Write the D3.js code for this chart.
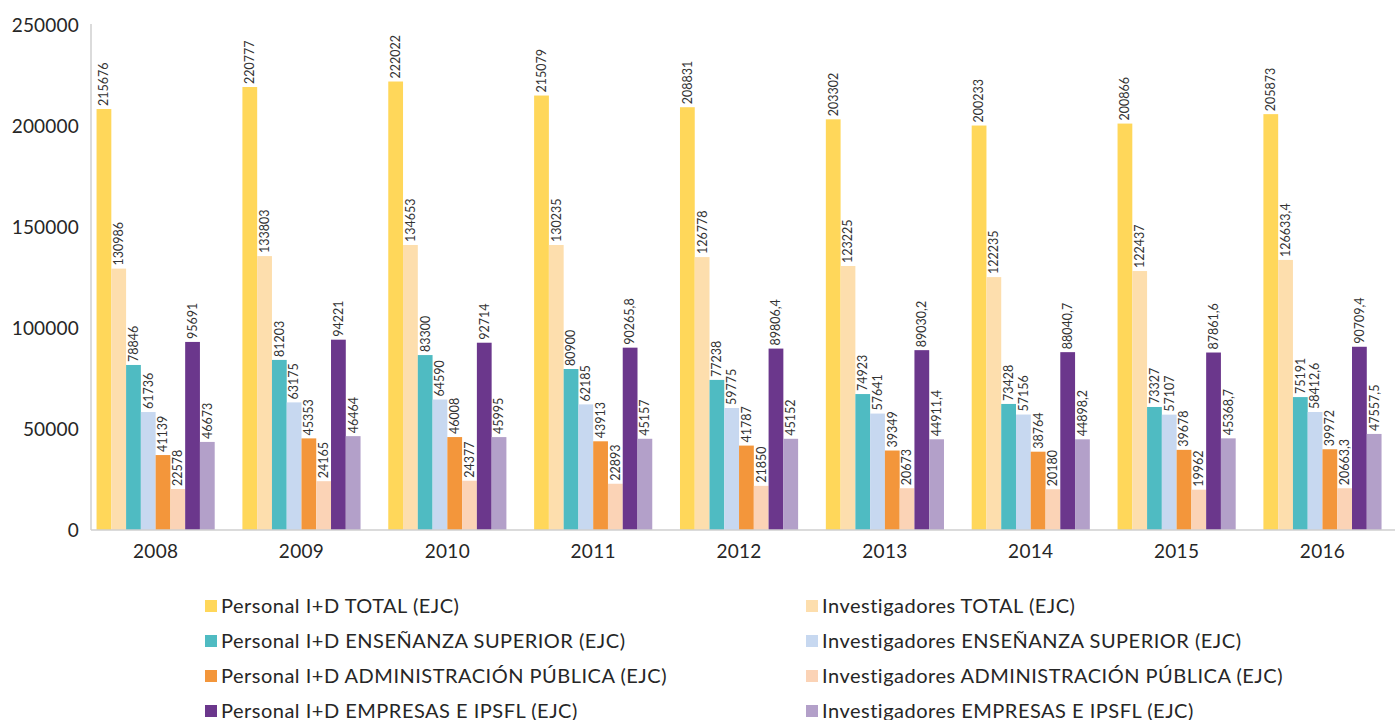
<!DOCTYPE html>
<html>
<head>
<meta charset="utf-8">
<script src="https://cdnjs.cloudflare.com/ajax/libs/d3/7.8.5/d3.min.js"></script>
<style>
    body { margin: 0; background: #fff; }
    svg text { font-family: "Century Gothic", Lato, "Open Sans", sans-serif; fill: #262626; }
</style>
</head>
<body>
<div id="chart"></div>
<script>

// Years on the x axis
let years = ["2008", "2009", "2010", "2011", "2012", "2013", "2014", "2015", "2016"]

// Series names (legend order: left column / right column per row)
let seriesNames = [
    "Personal I+D TOTAL (EJC)",
    "Investigadores TOTAL (EJC)",
    "Personal I+D ENSEÑANZA SUPERIOR (EJC)",
    "Investigadores ENSEÑANZA SUPERIOR (EJC)",
    "Personal I+D ADMINISTRACIÓN PÚBLICA (EJC)",
    "Investigadores ADMINISTRACIÓN PÚBLICA (EJC)",
    "Personal I+D EMPRESAS E IPSFL (EJC)",
    "Investigadores EMPRESAS E IPSFL (EJC)"
]

let seriesColours = ["#FFD75A", "#FDDEAD", "#4FBBC2", "#C7D8F0", "#F3963B", "#FBD3B6", "#6B378C", "#B3A0C9"]

// Bar heights as drawn in the picture
let personalTotal   = [208400, 219300, 222022, 215079, 209300, 203302, 200233, 201200, 205873]
let investTotal     = [129400, 135600, 141100, 141100, 135100, 130700, 125200, 128200, 133700]
let personalEns     = [81700, 84200, 86600, 79700, 74300, 67300, 62400, 60900, 65800]
let investEns       = [58400, 63175, 64590, 62185, 60400, 57641, 57156, 57107, 58412.6]
let personalAdm     = [37100, 45353, 46008, 43913, 41787, 39349, 38764, 39678, 39972]
let investAdm       = [20300, 24165, 24377, 22893, 21850, 20673, 20180, 19962, 20663.3]
let personalEmp     = [93100, 94221, 92714, 90265.8, 89806.4, 89030.2, 88040.7, 87861.6, 90709.4]
let investEmp       = [43600, 46464, 45995, 45157, 45152, 44911.4, 44898.2, 45368.7, 47557.5]

// Data labels as printed above the bars
let personalTotalLbl = ["215676", "220777", "222022", "215079", "208831", "203302", "200233", "200866", "205873"]
let investTotalLbl   = ["130986", "133803", "134653", "130235", "126778", "123225", "122235", "122437", "126633,4"]
let personalEnsLbl   = ["78846", "81203", "83300", "80900", "77238", "74923", "73428", "73327", "75191"]
let investEnsLbl     = ["61736", "63175", "64590", "62185", "59775", "57641", "57156", "57107", "58412,6"]
let personalAdmLbl   = ["41139", "45353", "46008", "43913", "41787", "39349", "38764", "39678", "39972"]
let investAdmLbl     = ["22578", "24165", "24377", "22893", "21850", "20673", "20180", "19962", "20663,3"]
let personalEmpLbl   = ["95691", "94221", "92714", "90265,8", "89806,4", "89030,2", "88040,7", "87861,6", "90709,4"]
let investEmpLbl     = ["46673", "46464", "45995", "45157", "45152", "44911,4", "44898,2", "45368,7", "47557,5"]

let yTicks = [0, 50000, 100000, 150000, 200000, 250000]

let seriesValues = [personalTotal, investTotal, personalEns, investEns, personalAdm, investAdm, personalEmp, investEmp]
let seriesLabels = [personalTotalLbl, investTotalLbl, personalEnsLbl, investEnsLbl, personalAdmLbl, investAdmLbl, personalEmpLbl, investEmpLbl]

// Flatten into one row per bar
let bars = []
years.forEach((yr, i) => {
    seriesNames.forEach((s, j) => {
        bars.push({year: yr, series: s, value: seriesValues[j][i], label: seriesLabels[j][i]})
    })
})

let width = 1395, height = 720
let axisX = 91, plotTop = 25, plotBottom = 530

let svg = d3.select("#chart").append("svg")
    .attr("width", width)
    .attr("height", height)

// Scales
let x0 = d3.scaleBand()
    .domain(years)
    .range([82.7, 1395.4])
    .paddingInner(0.19)
    .paddingOuter(0.095)

let x1 = d3.scaleBand()
    .domain(seriesNames)
    .range([0, x0.bandwidth()])

let y = d3.scaleLinear()
    .domain([0, 250000])
    .range([plotBottom, plotTop])

let colour = d3.scaleOrdinal()
    .domain(seriesNames)
    .range(seriesColours)

// Y axis labels
let yAxis = d3.axisLeft(y)
    .tickValues(yTicks)
    .tickSize(0)
    .tickPadding(12)
    .tickFormat(d3.format("d"))

svg.append("g")
    .attr("transform", "translate(" + axisX + ",0)")
    .call(yAxis)
    .call(g => g.select(".domain").remove())
    .selectAll("text")
    .style("font-size", "19px")
    .style("letter-spacing", "0.2px")

// Axis lines
svg.append("line")
    .attr("x1", axisX).attr("x2", axisX)
    .attr("y1", plotTop - 1).attr("y2", plotBottom)
    .attr("stroke", "#cfcfcf")
    .attr("stroke-width", 1.5)

// Bars
svg.append("g")
    .selectAll("rect")
    .data(bars)
    .enter()
    .append("rect")
    .attr("x", d => x0(d.year) + x1(d.series))
    .attr("y", d => y(d.value))
    .attr("width", x1.bandwidth())
    .attr("height", d => y(0) - y(d.value))
    .style("fill", d => colour(d.series))

svg.append("line")
    .attr("x1", axisX).attr("x2", width)
    .attr("y1", plotBottom).attr("y2", plotBottom)
    .attr("stroke", "#cfcfcf")
    .attr("stroke-width", 1.5)

// X axis labels
let xAxis = d3.axisBottom(x0)
    .tickSize(0)
    .tickPadding(15)

svg.append("g")
    .attr("transform", "translate(0," + plotBottom + ")")
    .call(xAxis)
    .call(g => g.select(".domain").remove())
    .selectAll("text")
    .style("font-size", "19px")
    .style("letter-spacing", "0.3px")

// Data labels, rotated above each bar
svg.append("g")
    .selectAll("text")
    .data(bars)
    .enter()
    .append("text")
    .attr("transform", d => "translate(" + (x0(d.year) + x1(d.series) + x1.bandwidth() / 2) + "," + (y(d.value) - 3) + ") rotate(-90)")
    .attr("dy", "0.35em")
    .style("font-size", "12.5px")
    .style("fill", "#333")
    .text(d => d.label)

// Legend, two columns
let legend = svg.append("g")
    .selectAll("g")
    .data(seriesNames)
    .enter()
    .append("g")
    .attr("transform", (d, i) => "translate(" + (i % 2 == 0 ? 205 : 806) + "," + (606 + Math.floor(i / 2) * 35) + ")")

legend.append("rect")
    .attr("x", 0)
    .attr("y", -6)
    .attr("width", 12)
    .attr("height", 12)
    .style("fill", d => colour(d))

legend.append("text")
    .attr("x", 16)
    .attr("dy", "0.35em")
    .style("font-size", "20px")
    .style("letter-spacing", "0.5px")
    .text(d => d)

</script>
</body>
</html>
